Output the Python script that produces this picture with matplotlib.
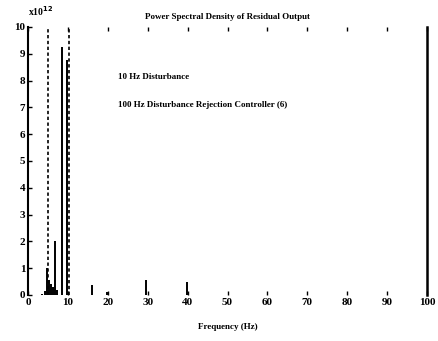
import numpy as np
import matplotlib
matplotlib.use("Agg")
import matplotlib.pyplot as plt

plt.rcParams['font.family'] = ['Liberation Serif', 'DejaVu Serif']

# Data (PSD peaks, in units of 1e12)
dist_freq = [5.1, 10.3]
dist_psd = [14, 14]

ctrl_freq = [3.5, 4.2, 4.7, 5.3, 5.8, 6.3, 6.8, 7.3, 8.4, 9.7, 16.0, 19.7, 29.5, 39.8]
ctrl_psd = [0.05, 0.15, 1.0, 0.55, 0.4, 0.3, 2.0, 0.2, 9.25, 8.75, 0.37, 0.1, 0.56, 0.5]

xticks = [0, 10, 20, 30, 40, 50, 60, 70, 80, 90, 100]
yticks = list(range(0, 11))

fig = plt.figure(figsize=(4.38, 3.41), dpi=100)
ax = fig.add_axes([0.064, 0.135, 0.911, 0.786])

ax.vlines(dist_freq, 0, dist_psd, colors='black', linestyles=(0, (2, 1.5)), linewidth=1.2)
ax.vlines(ctrl_freq, 0, ctrl_psd, colors='black', linewidth=1.4)

ax.set_xlim(0, 100)
ax.set_ylim(0, 10)
ax.set_xticks(xticks)
ax.set_yticks(yticks)

ax.tick_params(direction='in', length=3, width=1, top=True, right=False,
               labelsize=8, pad=2)
for lab in ax.get_xticklabels() + ax.get_yticklabels():
    lab.set_fontweight('bold')

ax.spines['top'].set_visible(False)
ax.spines['bottom'].set_visible(False)
ax.spines['left'].set_linewidth(1.5)
ax.spines['right'].set_linewidth(1.8)

ax.text(0.0, 1.035, r'x10$^{\mathbf{12}}$', transform=ax.transAxes, fontsize=7,
        fontweight='bold', ha='left', va='bottom')

ax.set_title('Power Spectral Density of Residual Output', fontsize=6.5,
             fontweight='bold', pad=6)
ax.set_xlabel('Frequency (Hz)', fontsize=6.5, fontweight='bold', labelpad=12)

ax.text(0.225, 0.815, '10 Hz Disturbance', transform=ax.transAxes,
        fontsize=6.5, fontweight='bold', va='center')
ax.text(0.225, 0.71, '100 Hz Disturbance Rejection Controller (6)', transform=ax.transAxes,
        fontsize=6.5, fontweight='bold', va='center')

fig.savefig('out.png', dpi=100)
